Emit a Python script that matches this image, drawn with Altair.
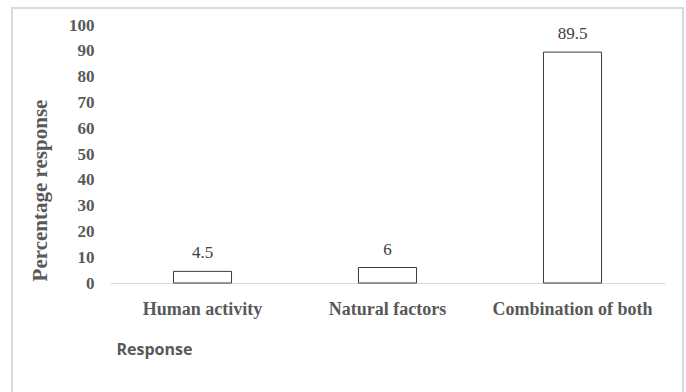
import altair as alt
import pandas as pd

# Survey responses: perceived cause, share of respondents (%)
categories = ["Human activity", "Natural factors", "Combination of both"]
percentages = [4.5, 6, 89.5]
labels = ["4.5", "6", "89.5"]
y_ticks = [0, 10, 20, 30, 40, 50, 60, 70, 80, 90, 100]

df = pd.DataFrame({"Response": categories, "Percentage": percentages, "Label": labels})

serif = "Liberation Serif"

x_enc = alt.X(
    "Response:N",
    sort=categories,
    scale=alt.Scale(paddingInner=0.686, paddingOuter=0.343),
    axis=alt.Axis(
        title="Response",
        titleFont="Open Sans",
        titleFontSize=16,
        titleFontWeight="bold",
        titleColor="#595959",
        titleAnchor="start",
        titleAlign="left",
        titleX=6,
        titleY=58,
        labelAngle=0,
        labelFont=serif,
        labelFontSize=18,
        labelFontWeight="bold",
        labelColor="#595959",
        labelPadding=17,
        ticks=False,
        domainColor="#d9d9d9",
        domainWidth=1,
    ),
)

y_enc = alt.Y(
    "Percentage:Q",
    scale=alt.Scale(domain=[0, 100], nice=False),
    axis=alt.Axis(
        title="Percentage response",
        titleFont=serif,
        titleFontSize=21,
        titleFontWeight="bold",
        titleColor="#595959",
        titleAngle=270,
        titleX=-70,
        titleY=165,
        titleAlign="center",
        titleBaseline="middle",
        values=y_ticks,
        labelOverlap=False,
        labelFont=serif,
        labelFontSize=17,
        labelFontWeight="bold",
        labelColor="#595959",
        labelPadding=16,
        ticks=False,
        domain=False,
        grid=False,
    ),
)

base = alt.Chart(df).encode(x=x_enc, y=y_enc)

bars = base.mark_bar(fill="white", stroke="#3a3a3a", strokeWidth=1)

values = base.mark_text(
    font=serif, fontSize=17, color="#404040", baseline="bottom", dy=-9
).encode(text="Label:N")

# light outer frame around the whole figure
frame = alt.Chart(df).mark_rect(
    fill=None, stroke="#d9d9d9", strokeWidth=1.5, clip=False
).encode(
    x=alt.value(-98), x2=alt.value(573), y=alt.value(-17), y2=alt.value(380)
)

chart = (
    alt.layer(frame, bars, values)
    .properties(
        width=555,
        height=258,
        autosize=alt.AutoSizeParams(type="none"),
        padding={"left": 110, "top": 25, "right": 21, "bottom": 109},
        background="white",
    )
    .configure_view(stroke=None)
)

chart.save("out.html", embed_options={"renderer": "svg", "actions": False})
